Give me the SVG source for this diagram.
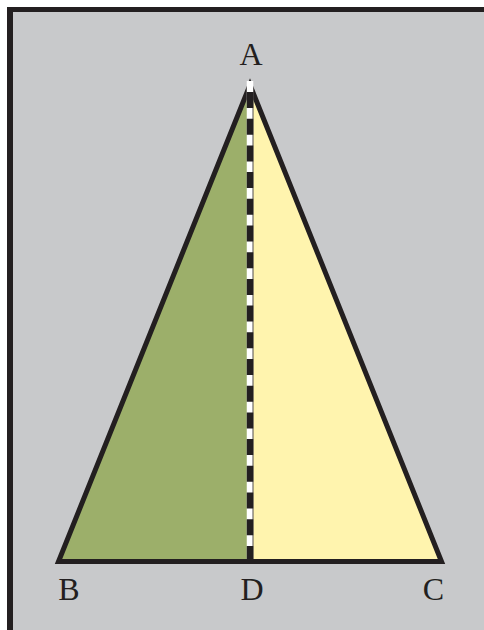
<svg xmlns="http://www.w3.org/2000/svg" width="484" height="630" viewBox="0 0 484 630">
<style>
.lbl{font-family:"Liberation Serif","Times New Roman",serif;font-size:32px;fill:#231f20;text-anchor:middle}
</style>
<rect x="0" y="0" width="484" height="630" fill="#ffffff"/>
<rect x="7" y="7" width="477" height="623" fill="#c8c9cb"/>
<g id="frame">
<rect x="7" y="7" width="6" height="623" fill="#231f20"/>
<rect x="7" y="7" width="477" height="5" fill="#231f20"/>
</g>
<g id="triangle-ABD">
<polygon points="250,85 58.5,561.5 250,561.5" fill="#9caf6a"/>
</g>
<g id="triangle-ADC">
<polygon points="250,85 250,561.5 441.5,561.5" fill="#fff4ae"/>
</g>
<g id="outline">
<polygon points="250,85 58.5,561.5 441.5,561.5" fill="none" stroke="#231f20" stroke-width="5" stroke-linejoin="miter" stroke-miterlimit="10"/>
</g>
<g id="connectors">
<line x1="250" y1="81" x2="250" y2="559" stroke="#ffffff" stroke-width="6.5"/>
<line x1="253" y1="92" x2="253" y2="559" stroke="#231f20" stroke-width="0.8"/>
<line x1="250" y1="92" x2="250" y2="559" stroke="#231f20" stroke-width="6.5" stroke-dasharray="16 10.7"/>
</g>
<g id="label-A"><text class="lbl" x="251" y="65">A</text></g>
<g id="label-B"><text class="lbl" x="69" y="600">B</text></g>
<g id="label-D"><text class="lbl" x="252" y="600">D</text></g>
<g id="label-C"><text class="lbl" x="433.5" y="600">C</text></g>
</svg>
